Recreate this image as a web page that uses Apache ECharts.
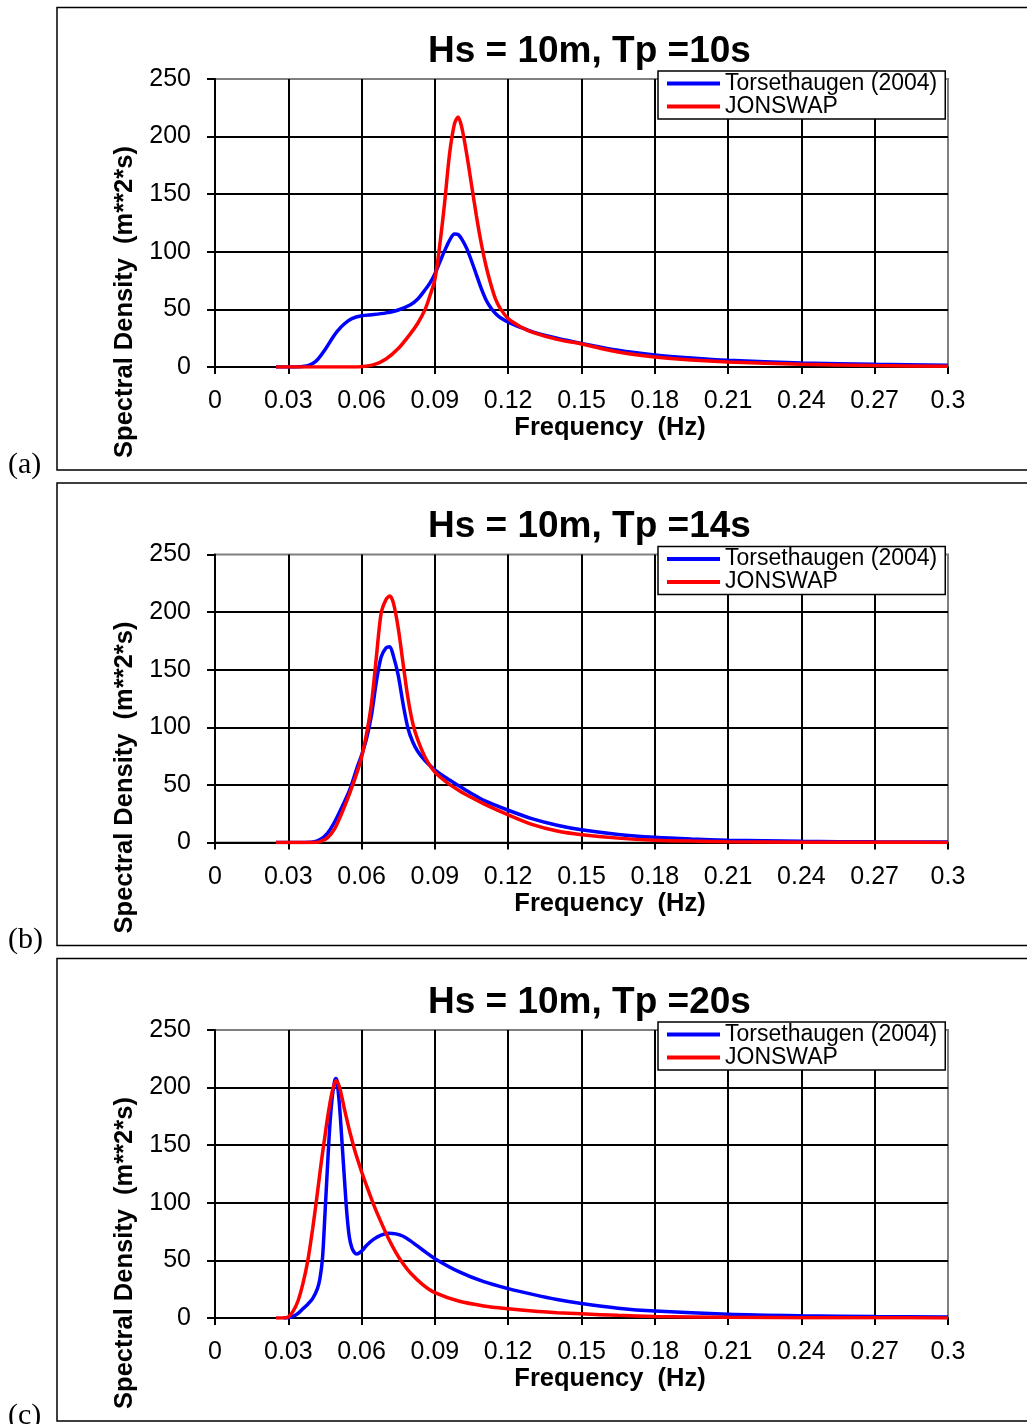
<!DOCTYPE html>
<html>
<head>
<meta charset="utf-8">
<title>Spectral Density</title>
<script src="https://cdn.jsdelivr.net/npm/echarts@6/dist/echarts.min.js"></script>
<style>
html, body { margin: 0; padding: 0; background: #fff; }
#main { width: 1027px; height: 1424px; }
</style>
</head>
<body>
<div id="main"></div>
<script>
// tick labels
var xTickLabels = ['0', '0.03', '0.06', '0.09', '0.12', '0.15', '0.18', '0.21', '0.24', '0.27', '0.3'];
var yTickLabels = ['0', '50', '100', '150', '200', '250'];
var panelLabels = ['(a)', '(b)', '(c)'];
var panelTitles = ['Hs = 10m, Tp =10s', 'Hs = 10m, Tp =14s', 'Hs = 10m, Tp =20s'];
var seriesNames = ['Torsethaugen (2004)', 'JONSWAP'];

// (a) Tp = 10s
var freqA = [0.025, 0.03, 0.035, 0.038, 0.04, 0.042, 0.045, 0.048, 0.05, 0.053, 0.056, 0.06, 0.065, 0.07, 0.075, 0.08, 0.083, 0.086, 0.088, 0.09, 0.092, 0.094, 0.096, 0.098, 0.0995, 0.101, 0.103, 0.105, 0.107, 0.109, 0.111, 0.113, 0.115, 0.117, 0.12, 0.125, 0.13, 0.14, 0.15, 0.165, 0.18, 0.195, 0.21, 0.24, 0.27, 0.3];
var torsA = [0, 0, 0.3, 1.2, 3, 6.5, 15, 25, 31, 37.5, 42, 44.5, 45.5, 47, 49.5, 54, 59, 67, 73, 81, 91, 101, 110, 115.5, 115, 111, 103, 92, 80, 68, 58, 51, 46, 42.5, 39, 34.5, 30.5, 25, 20.5, 14.5, 10.5, 7.8, 5.8, 3.5, 2.3, 1.6];
var jonsA = [0, 0, 0, 0, 0, 0, 0, 0, 0, 0, 0, 0.3, 2, 7, 16, 29, 38, 50, 62, 76, 106, 143, 185, 211, 217, 208, 185, 158, 131, 107, 87, 71, 58, 50, 42, 35, 30, 24, 20, 13, 8.7, 6, 4.3, 2.3, 1.2, 0.7];

// (b) Tp = 14s
var freqB = [0.025, 0.03, 0.035, 0.04, 0.043, 0.046, 0.049, 0.052, 0.055, 0.058, 0.06, 0.062, 0.064, 0.066, 0.068, 0.07, 0.0715, 0.073, 0.075, 0.077, 0.079, 0.081, 0.083, 0.086, 0.09, 0.095, 0.1, 0.105, 0.11, 0.12, 0.13, 0.14, 0.15, 0.165, 0.18, 0.195, 0.21, 0.24, 0.27, 0.3];
var torsB = [0, 0, 0, 0.4, 2.5, 8, 18, 31, 45, 64, 76, 90, 110, 139, 161, 169, 170, 162, 145, 120, 99, 87, 79, 71, 63, 55.5, 49, 42.5, 36.5, 28, 20.5, 15, 11, 7, 4.5, 3, 2, 1, 0.6, 0.4];
var jonsB = [0, 0, 0, 0, 0.8, 4, 12, 26, 42, 60, 74, 94, 120, 160, 199, 211, 214, 208, 186, 155, 125, 103, 89, 74, 61, 52, 45, 39, 33.5, 24, 15.5, 10, 6.8, 3.8, 2, 1.2, 0.7, 0.3, 0.15, 0.1];

// (c) Tp = 20s
var freqC = [0.025, 0.028, 0.03, 0.032, 0.034, 0.036, 0.038, 0.04, 0.042, 0.043, 0.044, 0.045, 0.046, 0.047, 0.048, 0.049, 0.0495, 0.05, 0.051, 0.052, 0.053, 0.054, 0.055, 0.056, 0.057, 0.058, 0.06, 0.062, 0.065, 0.068, 0.071, 0.074, 0.077, 0.08, 0.085, 0.09, 0.1, 0.11, 0.12, 0.13, 0.14, 0.15, 0.165, 0.18, 0.21, 0.24, 0.27, 0.3];
var torsC = [null, 0, 0.3, 1.5, 4, 8, 12, 17, 26, 35, 52, 90, 130, 167, 192, 206, 208, 205, 183, 152, 120, 90, 70, 61, 57, 55.5, 58, 63, 68.5, 72, 73.5, 73, 71, 67, 59, 51.5, 40, 31.5, 25.5, 20.5, 16, 12.5, 8.5, 6, 3.2, 1.9, 1.2, 0.8];
var jonsC = [0, 0, 1, 6, 15, 30, 50, 78, 110, 127, 143, 158, 173, 186, 197, 204, 206, 205.5, 200, 191, 181, 172, 163, 155, 147, 140, 127, 115, 98, 83, 69, 57, 47, 39, 29, 22, 14.5, 10.5, 8, 6, 4.6, 3.6, 2.3, 1.4, 0.6, 0.3, 0.2, 0.1];

var panels = [
	{freq: freqA, tors: torsA, jons: jonsA},
	{freq: freqB, tors: torsB, jons: jonsB},
	{freq: freqC, tors: torsC, jons: jonsC}
];

function pairs(freq, vals) {
	return freq.map(function (f, i) { return [f, vals[i]]; });
}

var font = '"Liberation Sans", Arial, sans-serif';
var step = 475.5;

var grids = [], xAxes = [], yAxes = [], series = [], titles = [], legends = [], graphics = [];

for (var i = 0; i < panels.length; i++) {
	var off = i * step;
	grids.push({
		left: 215, top: 79 + off, width: 733, height: 288,
		show: true, borderColor: '#808080', borderWidth: 2, backgroundColor: 'transparent',
		outerBoundsMode: 'none'
	});
	xAxes.push({
		gridIndex: i, type: 'value', min: 0, max: 0.3, interval: 0.03,
		name: 'Frequency  (Hz)', nameLocation: 'middle', nameGap: 48,
		nameTextStyle: {color: '#000', fontSize: 25.5, fontWeight: 'bold', fontFamily: font, padding: [0, 0, 0, 57]},
		axisLine: {show: true, onZero: false, lineStyle: {color: '#000', width: 2}},
		axisTick: {show: true, length: 7, lineStyle: {color: '#000', width: 2}},
		axisLabel: {color: '#000', fontSize: 25, fontFamily: font, margin: 22,
			formatter: function (v, idx) { return xTickLabels[idx]; }},
		splitLine: {show: true, showMaxLine: false, lineStyle: {color: '#000', width: 2}}
	});
	yAxes.push({
		gridIndex: i, type: 'value', min: 0, max: 250, interval: 50,
		name: 'Spectral Density  (m**2*s)', nameLocation: 'middle', nameGap: 68,
		nameTextStyle: {color: '#000', fontSize: 25.5, fontWeight: 'bold', fontFamily: font, padding: [0, 158, 0, 0]},
		axisLine: {show: true, lineStyle: {color: '#000', width: 2}},
		axisTick: {show: true, length: 8, lineStyle: {color: '#000', width: 2}},
		axisLabel: {color: '#000', fontSize: 25, fontFamily: font, margin: 24, padding: [7, 0, 0, 0],
			formatter: function (v, idx) { return yTickLabels[idx]; }},
		splitLine: {show: true, showMaxLine: false, lineStyle: {color: '#000', width: 2}}
	});
	series.push({
		name: seriesNames[0], type: 'line', xAxisIndex: i, yAxisIndex: i,
		data: pairs(panels[i].freq, panels[i].tors),
		showSymbol: false, smooth: 0.3, color: '#0000ff',
		lineStyle: {color: '#0000ff', width: 3.5}
	});
	series.push({
		name: seriesNames[1], type: 'line', xAxisIndex: i, yAxisIndex: i,
		data: pairs(panels[i].freq, panels[i].jons),
		showSymbol: false, smooth: 0.3, color: '#ff0000',
		lineStyle: {color: '#ff0000', width: 3.5}
	});
	titles.push({
		text: panelTitles[i], left: 428, top: 33 + off, padding: 0,
		textStyle: {color: '#000', fontSize: 37, fontWeight: 'bold', fontFamily: font}
	});
	legends.push({
		data: seriesNames, orient: 'vertical', left: 658, top: 71 + off,
		icon: 'rect', itemWidth: 53, itemHeight: 4, itemGap: 0,
		padding: [1, 8, 1, 9], borderColor: '#000', borderWidth: 1.5, backgroundColor: '#fff',
		textStyle: {color: '#000', fontSize: 23, lineHeight: 22, fontFamily: font}
	});
	// panel frame
	graphics.push({
		type: 'rect', silent: true,
		shape: {x: 57, y: 7.5 + off, width: 1000, height: 462.5},
		style: {fill: 'transparent', stroke: '#000', lineWidth: 1.5}
	});
	graphics.push({
		type: 'text', silent: true, x: 8, y: 465 + off,
		style: {text: panelLabels[i], fill: '#000', font: '30px "Liberation Serif", "Times New Roman", serif', verticalAlign: 'middle'}
	});
}

var myChart = echarts.init(document.getElementById('main'));
myChart.setOption({
	animation: false,
	backgroundColor: '#fff',
	title: titles,
	legend: legends,
	grid: grids,
	xAxis: xAxes,
	yAxis: yAxes,
	series: series,
	graphic: graphics
});
</script>
</body>
</html>
